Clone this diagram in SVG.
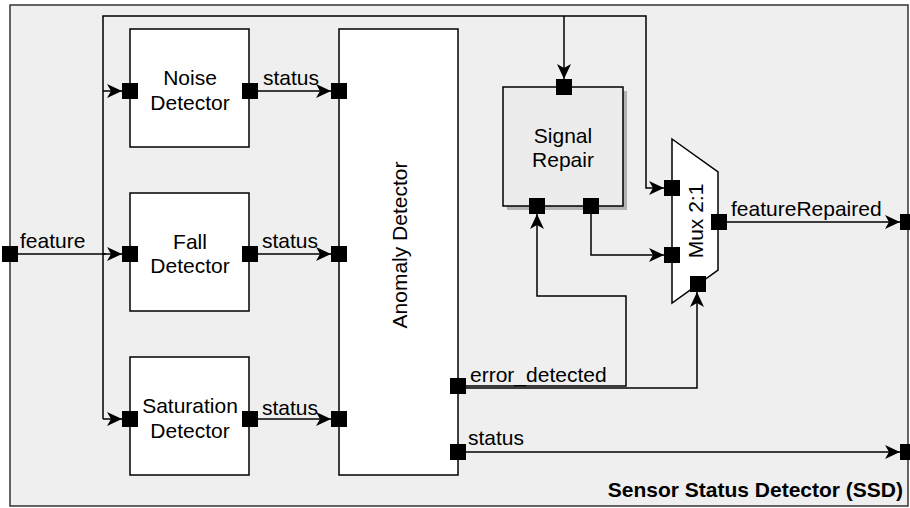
<svg xmlns="http://www.w3.org/2000/svg" width="910" height="508" viewBox="0 0 910 508">
<defs>
<style>
.box{fill:#ffffff;stroke:#000;stroke-width:1.5}
.port{fill:#000}
.wire{fill:none;stroke:#000;stroke-width:1.5}
.t{font-family:"Liberation Sans",Arial,sans-serif;font-size:21px;fill:#000}
.c{text-anchor:middle}
</style>
<marker id="arr" markerUnits="userSpaceOnUse" markerWidth="16" markerHeight="14" refX="15" refY="7" orient="auto">
<path d="M0,0 L15,7 L0,14 L4,7 Z" fill="#000"/>
</marker>
</defs>
<rect x="0" y="0" width="910" height="508" fill="#ffffff"/>
<g id="ssd">
<rect x="10" y="5" width="898" height="501" fill="#efefef" stroke="#333" stroke-width="1.5"/>
<text class="t" x="903" y="497" text-anchor="end" font-weight="bold" font-size="19">Sensor Status Detector (SSD)</text>
</g>
<g id="connectors">
<path class="wire" d="M10,254 H106" />
<path class="wire" d="M103,254 H122" marker-end="url(#arr)"/>
<path class="wire" d="M103,419 V16 H646 V188 H664" marker-end="url(#arr)"/>
<path class="wire" d="M103,91 H122" marker-end="url(#arr)"/>
<path class="wire" d="M103,419 H122" marker-end="url(#arr)"/>
<path class="wire" d="M564,16 V79" marker-end="url(#arr)"/>
<path class="wire" d="M257,91 H331" marker-end="url(#arr)"/>
<path class="wire" d="M257,254 H331" marker-end="url(#arr)"/>
<path class="wire" d="M257,419 H331" marker-end="url(#arr)"/>
<path class="wire" d="M591,206 V255 H664" marker-end="url(#arr)"/>
<path class="wire" d="M458,386 H626 V296 H537 V214" marker-end="url(#arr)"/>
<path class="wire" d="M458,388 H697 V292" marker-end="url(#arr)"/>
<path class="wire" d="M719,222 H900" marker-end="url(#arr)"/>
<path class="wire" d="M458,452 H900" marker-end="url(#arr)"/>
<text class="t" x="20" y="248">feature</text>
<text class="t" x="263" y="85">status</text>
<text class="t" x="262" y="248">status</text>
<text class="t" x="262" y="415">status</text>
<text class="t" x="470" y="382">error_detected</text>
<text class="t" x="468" y="445">status</text>
<text class="t" x="731" y="216">featureRepaired</text>
</g>
<g id="noise-detector">
<rect class="box" x="130" y="29" width="119" height="118"/>
<text class="t c" x="190" y="85">Noise</text>
<text class="t c" x="190" y="110">Detector</text>
<rect class="port" x="122" y="83" width="16" height="16"/>
<rect class="port" x="242" y="83" width="16" height="16"/>
</g>
<g id="fall-detector">
<rect class="box" x="130" y="193" width="119" height="118"/>
<text class="t c" x="190" y="249">Fall</text>
<text class="t c" x="190" y="273">Detector</text>
<rect class="port" x="122" y="246" width="16" height="16"/>
<rect class="port" x="242" y="246" width="16" height="16"/>
</g>
<g id="saturation-detector">
<rect class="box" x="130" y="357" width="119" height="118"/>
<text class="t c" x="190" y="413">Saturation</text>
<text class="t c" x="190" y="438">Detector</text>
<rect class="port" x="122" y="411" width="16" height="16"/>
<rect class="port" x="242" y="411" width="16" height="16"/>
</g>
<g id="anomaly-detector">
<rect class="box" x="339" y="29" width="119" height="446"/>
<text class="t c" transform="translate(407,245) rotate(-90)">Anomaly Detector</text>
<rect class="port" x="331" y="83" width="16" height="16"/>
<rect class="port" x="331" y="246" width="16" height="16"/>
<rect class="port" x="331" y="411" width="16" height="16"/>
<rect class="port" x="450" y="378" width="16" height="16"/>
<rect class="port" x="450" y="444" width="16" height="16"/>
</g>
<g id="signal-repair">
<rect x="507" y="91" width="120" height="119" fill="#b3b3b3"/>
<rect x="503" y="87" width="120" height="119" fill="#ececec" stroke="#000" stroke-width="1.5"/>
<text class="t c" x="563" y="143">Signal</text>
<text class="t c" x="563" y="167">Repair</text>
<rect class="port" x="556" y="79" width="16" height="16"/>
<rect class="port" x="529" y="198" width="16" height="16"/>
<rect class="port" x="583" y="198" width="16" height="16"/>
</g>
<g id="mux">
<path d="M672,139 L718,172 V270 L672,303 Z" fill="#fff" stroke="#000" stroke-width="1.5"/>
<text class="t c" font-size="20" transform="translate(703,221) rotate(-90)">Mux 2:1</text>
<rect class="port" x="664" y="180" width="16" height="16"/>
<rect class="port" x="664" y="247" width="16" height="16"/>
<rect class="port" x="711" y="214" width="16" height="16"/>
<rect class="port" x="690" y="276" width="16" height="16"/>
</g>
<g id="boundary-ports">
<rect class="port" x="2" y="246" width="16" height="16"/>
<rect class="port" x="900" y="214" width="16" height="16"/>
<rect class="port" x="900" y="444" width="16" height="16"/>
</g>
</svg>
